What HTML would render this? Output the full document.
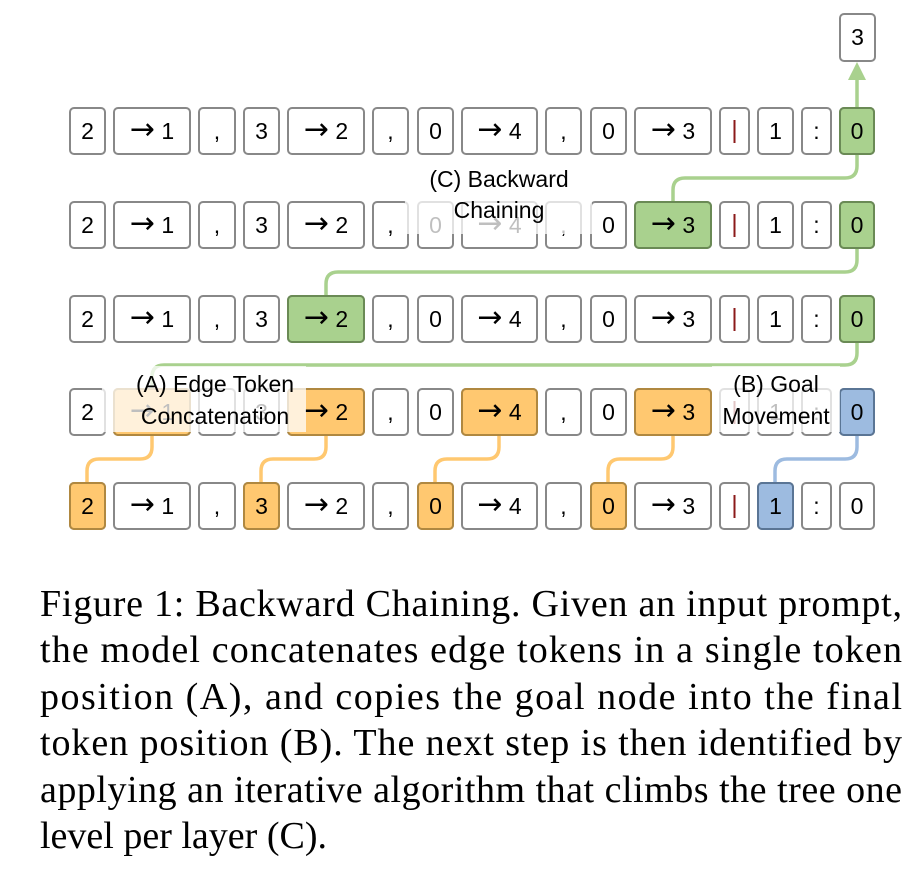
<!DOCTYPE html>
<html><head><meta charset="utf-8"><style>
html,body{margin:0;padding:0;background:#fff}
svg{display:block}
.t{font-family:"Liberation Sans","DejaVu Sans",sans-serif;font-size:23px;text-anchor:middle;fill:#000}
.a{font-family:"DejaVu Sans",sans-serif;font-size:30px}
.l{font-family:"Liberation Sans","DejaVu Sans",sans-serif;font-size:23px;text-anchor:middle;fill:#000}
.c{font-family:"Liberation Serif","Times New Roman",serif;font-size:38px;fill:#000}
</style></head><body>
<svg width="916" height="872" viewBox="0 0 916 872" xmlns="http://www.w3.org/2000/svg">
<defs>
<g id="r">
<rect x="70" y="0" width="35" height="46" rx="4"/>
<rect x="114" y="0" width="76" height="46" rx="4"/>
<rect x="199" y="0" width="36" height="46" rx="4"/>
<rect x="244" y="0" width="35" height="46" rx="4"/>
<rect x="288" y="0" width="76" height="46" rx="4"/>
<rect x="373" y="0" width="35" height="46" rx="4"/>
<rect x="418" y="0" width="35" height="46" rx="4"/>
<rect x="462" y="0" width="75" height="46" rx="4"/>
<rect x="546" y="0" width="35" height="46" rx="4"/>
<rect x="591" y="0" width="35" height="46" rx="4"/>
<rect x="635" y="0" width="76" height="46" rx="4"/>
<rect x="720" y="0" width="29" height="46" rx="4"/>
<rect x="758" y="0" width="35" height="46" rx="4"/>
<rect x="802" y="0" width="29" height="46" rx="4"/>
<rect x="840" y="0" width="34" height="46" rx="4"/>
</g>
</defs>
<g fill="none" stroke-width="3.5" stroke-linecap="round">
<path stroke="#a9d18e" d="M673,202 V190 Q673,178 685,178 H845 Q857,178 857,166 V155"/>
<path stroke="#a9d18e" d="M326,296 V284 Q326,272 338,272 H845 Q857,272 857,260 V248"/>
<path stroke="#a9d18e" d="M857,342 V353 Q857,365 845,365 H164 Q152,365 152,377 V389"/>
<path stroke="#a9d18e" d="M857,108 V74"/>
<path stroke="#ffc870" d="M87,483 V471 Q87,459 99,459 H140 Q152,459 152,447 V436"/>
<path stroke="#ffc870" d="M261,483 V471 Q261,459 273,459 H314 Q326,459 326,447 V436"/>
<path stroke="#ffc870" d="M435,483 V471 Q435,459 447,459 H487 Q499,459 499,447 V436"/>
<path stroke="#ffc870" d="M608,483 V471 Q608,459 620,459 H661 Q673,459 673,447 V436"/>
<path stroke="#9dbbe0" d="M775,483 V471 Q775,459 787,459 H845 Q857,459 857,447 V436"/>
</g>
<polygon points="857,62 848,80 866,80" fill="#a9d18e"/>
<rect x="840" y="14" width="35" height="47" rx="4" fill="#fff" stroke="#888" stroke-width="2"/>
<text class="t" x="857.5" y="45">3</text>
<g fill="#fff" stroke="#888" stroke-width="2">
<use href="#r" y="108"/><use href="#r" y="202"/><use href="#r" y="296"/><use href="#r" y="389"/><use href="#r" y="483"/>
</g>
<g stroke-width="2">
<rect x="840" y="108" width="34" height="46" rx="4" fill="#a9d18e" stroke="#6a8a55"/>
<rect x="635" y="202" width="76" height="46" rx="4" fill="#a9d18e" stroke="#6a8a55"/>
<rect x="840" y="202" width="34" height="46" rx="4" fill="#a9d18e" stroke="#6a8a55"/>
<rect x="288" y="296" width="76" height="46" rx="4" fill="#a9d18e" stroke="#6a8a55"/>
<rect x="840" y="296" width="34" height="46" rx="4" fill="#a9d18e" stroke="#6a8a55"/>
<rect x="114" y="389" width="76" height="46" rx="4" fill="#ffc870" stroke="#b08840"/>
<rect x="288" y="389" width="76" height="46" rx="4" fill="#ffc870" stroke="#b08840"/>
<rect x="462" y="389" width="75" height="46" rx="4" fill="#ffc870" stroke="#b08840"/>
<rect x="635" y="389" width="76" height="46" rx="4" fill="#ffc870" stroke="#b08840"/>
<rect x="840" y="389" width="34" height="46" rx="4" fill="#9dbbe0" stroke="#5a7595"/>
<rect x="70" y="483" width="35" height="46" rx="4" fill="#ffc870" stroke="#b08840"/>
<rect x="244" y="483" width="35" height="46" rx="4" fill="#ffc870" stroke="#b08840"/>
<rect x="418" y="483" width="35" height="46" rx="4" fill="#ffc870" stroke="#b08840"/>
<rect x="591" y="483" width="35" height="46" rx="4" fill="#ffc870" stroke="#b08840"/>
<rect x="758" y="483" width="35" height="46" rx="4" fill="#9dbbe0" stroke="#5a7595"/>
</g>
<g class="t">
<text x="87.5" y="139">2</text><text x="152" y="139"><tspan class="a">→</tspan> 1</text><text x="217" y="139">,</text><text x="261.5" y="139">3</text><text x="326" y="139"><tspan class="a">→</tspan> 2</text><text x="390.5" y="139">,</text><text x="435.5" y="139">0</text><text x="499.5" y="139"><tspan class="a">→</tspan> 4</text><text x="563.5" y="139">,</text><text x="608.5" y="139">0</text><text x="673" y="139"><tspan class="a">→</tspan> 3</text><text x="775.5" y="139">1</text><text x="816.5" y="139">:</text><text x="857" y="139">0</text>
<text x="87.5" y="233">2</text><text x="152" y="233"><tspan class="a">→</tspan> 1</text><text x="217" y="233">,</text><text x="261.5" y="233">3</text><text x="326" y="233"><tspan class="a">→</tspan> 2</text><text x="390.5" y="233">,</text><text x="435.5" y="233">0</text><text x="499.5" y="233"><tspan class="a">→</tspan> 4</text><text x="563.5" y="233">,</text><text x="608.5" y="233">0</text><text x="673" y="233"><tspan class="a">→</tspan> 3</text><text x="775.5" y="233">1</text><text x="816.5" y="233">:</text><text x="857" y="233">0</text>
<text x="87.5" y="327">2</text><text x="152" y="327"><tspan class="a">→</tspan> 1</text><text x="217" y="327">,</text><text x="261.5" y="327">3</text><text x="326" y="327"><tspan class="a">→</tspan> 2</text><text x="390.5" y="327">,</text><text x="435.5" y="327">0</text><text x="499.5" y="327"><tspan class="a">→</tspan> 4</text><text x="563.5" y="327">,</text><text x="608.5" y="327">0</text><text x="673" y="327"><tspan class="a">→</tspan> 3</text><text x="775.5" y="327">1</text><text x="816.5" y="327">:</text><text x="857" y="327">0</text>
<text x="87.5" y="420">2</text><text x="152" y="420"><tspan class="a">→</tspan> 1</text><text x="217" y="420">,</text><text x="261.5" y="420">3</text><text x="326" y="420"><tspan class="a">→</tspan> 2</text><text x="390.5" y="420">,</text><text x="435.5" y="420">0</text><text x="499.5" y="420"><tspan class="a">→</tspan> 4</text><text x="563.5" y="420">,</text><text x="608.5" y="420">0</text><text x="673" y="420"><tspan class="a">→</tspan> 3</text><text x="775.5" y="420">1</text><text x="816.5" y="420">:</text><text x="857" y="420">0</text>
<text x="87.5" y="514">2</text><text x="152" y="514"><tspan class="a">→</tspan> 1</text><text x="217" y="514">,</text><text x="261.5" y="514">3</text><text x="326" y="514"><tspan class="a">→</tspan> 2</text><text x="390.5" y="514">,</text><text x="435.5" y="514">0</text><text x="499.5" y="514"><tspan class="a">→</tspan> 4</text><text x="563.5" y="514">,</text><text x="608.5" y="514">0</text><text x="673" y="514"><tspan class="a">→</tspan> 3</text><text x="775.5" y="514">1</text><text x="816.5" y="514">:</text><text x="857" y="514">0</text>
</g>
<g stroke="#8b1a1a" stroke-width="2">
<line x1="734.5" y1="120" x2="734.5" y2="143"/><line x1="734.5" y1="214" x2="734.5" y2="237"/><line x1="734.5" y1="308" x2="734.5" y2="331"/><line x1="734.5" y1="401" x2="734.5" y2="424"/><line x1="734.5" y1="495" x2="734.5" y2="518"/>
</g>
<g fill="#fff" opacity="0.75">
<rect x="102" y="366" width="204" height="66"/>
<rect x="712" y="366" width="128" height="66"/>
<rect x="405" y="160" width="187" height="74"/>
</g>
<g class="l">
<text x="215" y="392">(A) Edge Token</text><text x="215" y="424">Concatenation</text>
<text x="776" y="392">(B) Goal</text><text x="776" y="424">Movement</text>
<text x="499" y="187">(C) Backward</text><text x="499" y="218">Chaining</text>
</g>
<g class="c">
<text x="40" y="616" textLength="862" lengthAdjust="spacing">Figure 1: Backward Chaining. Given an input prompt,</text>
<text x="40" y="662" textLength="862" lengthAdjust="spacing">the model concatenates edge tokens in a single token</text>
<text x="40" y="709" textLength="862" lengthAdjust="spacing">position (A), and copies the goal node into the final</text>
<text x="40" y="755" textLength="862" lengthAdjust="spacing">token position (B). The next step is then identified by</text>
<text x="40" y="802" textLength="862" lengthAdjust="spacing">applying an iterative algorithm that climbs the tree one</text>
<text x="40" y="848">level per layer (C).</text>
</g>
</svg>
</body></html>
